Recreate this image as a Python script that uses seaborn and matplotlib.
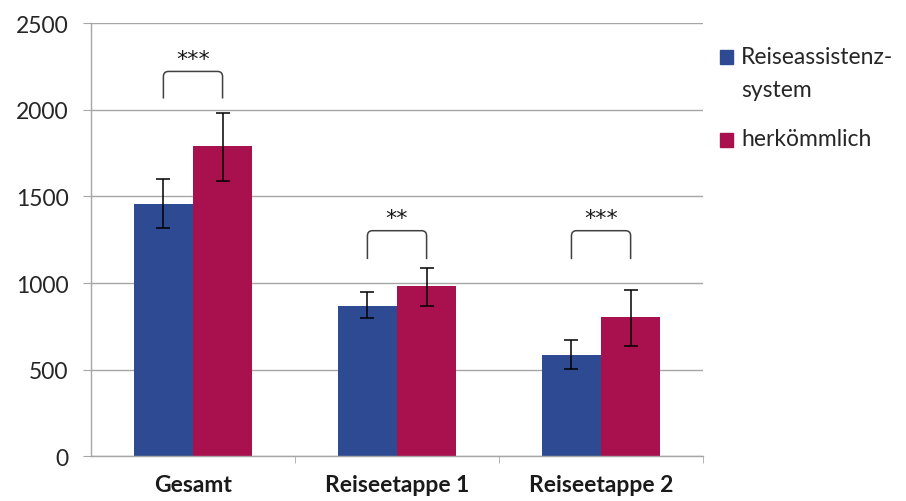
import numpy as np
import pandas as pd
import seaborn as sns
import matplotlib.pyplot as plt
from matplotlib.path import Path
from matplotlib.patches import PathPatch, Rectangle

# Daten
kategorien = ["Gesamt", "Reiseetappe 1", "Reiseetappe 2"]
gruppen = ["Reiseassistenz-\nsystem", "herkömmlich"]
werte_assist = [1457, 867, 586]
werte_herk = [1792, 984, 802]
fehler_unten_assist = [1317, 798, 502]
fehler_oben_assist = [1598, 946, 671]
fehler_unten_herk = [1588, 865, 638]
fehler_oben_herk = [1981, 1086, 961]
signifikanz = ["***", "**", "***"]
klammer_unten = [2065, 1138, 1138]
klammer_oben = [2221, 1302, 1302]
stern_y = [2290, 1375, 1375]

farben = ["#2E4A92", "#A8114E"]
grau = "#A6A6A6"

sns.set_style("white")
plt.rcParams['font.family'] = ['Lato', 'DejaVu Sans']

df = pd.DataFrame({
    "Kategorie": kategorien * 2,
    "Gruppe": [gruppen[0]] * 3 + [gruppen[1]] * 3,
    "Wert": werte_assist + werte_herk,
})

fig = plt.figure(figsize=(9.06, 5.02), dpi=100)
ax = fig.add_axes([0.1004, 0.089, 0.6756, 0.863])

sns.barplot(data=df, x="Kategorie", y="Wert", hue="Gruppe", palette=farben,
            width=0.58, errorbar=None, saturation=1, legend=False, ax=ax,
            edgecolor="none")

# Fehlerbalken
unten = [fehler_unten_assist, fehler_unten_herk]
oben = [fehler_oben_assist, fehler_oben_herk]
mitten = []
balken = list(ax.containers)
for k, cont in enumerate(balken):
    xs = [p.get_x() + p.get_width() / 2 for p in cont.patches]
    hs = [p.get_height() for p in cont.patches]
    mitten.append(xs)
    yerr = [np.array(hs) - np.array(unten[k]), np.array(oben[k]) - np.array(hs)]
    ax.errorbar(xs, hs, yerr=yerr, fmt="none", ecolor="black", elinewidth=1.1,
                capsize=5, capthick=1.1, zorder=5)

# Signifikanz-Klammern
for i in range(len(kategorien)):
    x1, x2 = mitten[0][i], mitten[1][i]
    b, t = klammer_unten[i], klammer_oben[i]
    rx, ry = 0.025, 30
    verts = [(x1, b), (x1, t - ry), (x1, t), (x1 + rx, t), (x2 - rx, t),
             (x2, t), (x2, t - ry), (x2, b)]
    codes = [Path.MOVETO, Path.LINETO, Path.CURVE3, Path.CURVE3, Path.LINETO,
             Path.CURVE3, Path.CURVE3, Path.LINETO]
    ax.add_patch(PathPatch(Path(verts, codes), fill=False, edgecolor="#404040",
                           linewidth=1.1, zorder=6))
    ax.text((x1 + x2) / 2, stern_y[i], signifikanz[i], ha="center", va="center",
            fontsize=16, color="#1a1a1a", family="DejaVu Sans")

ax.set_ylim(0, 2500)
ax.set_xlim(-0.5, 2.5)
ax.set_yticks(np.arange(0, 2501, 500))
ax.yaxis.grid(True, color=grau, linewidth=1)
ax.set_axisbelow(True)
for s in ["top", "right"]:
    ax.spines[s].set_visible(False)
for s in ["left", "bottom"]:
    ax.spines[s].set_color(grau)
    ax.spines[s].set_linewidth(1)

ax.set_xlabel("")
ax.set_ylabel("")
ax.tick_params(axis="y", length=6, color=grau, pad=10, labelsize=16.5,
               labelcolor="#262626", left=True)
ax.tick_params(axis="x", which="major", length=0, pad=13, labelsize=16.5,
               labelcolor="#1a1a1a")
for lab in ax.get_xticklabels():
    lab.set_fontweight("bold")
ax.set_xticks([0.5, 1.5, 2.5], minor=True)
ax.tick_params(axis="x", which="minor", length=5, color=grau, bottom=True)

# Legende
boxen_y = [444, 361]          # Pixel von unten
zeilen_y = [[445, 411], [363]]
for farbe, text, yb, yz in zip(farben, gruppen, boxen_y, zeilen_y):
    fig.patches.append(Rectangle((720 / 906, (yb - 7) / 502), 13 / 906, 14 / 502,
                                 transform=fig.transFigure, color=farbe))
    for zeile, y in zip(text.split("\n"), yz):
        fig.text(741 / 906, y / 502, zeile, ha="left", va="center", fontsize=16.5,
                 color="#262626")

fig.savefig("out.png", dpi=100)
